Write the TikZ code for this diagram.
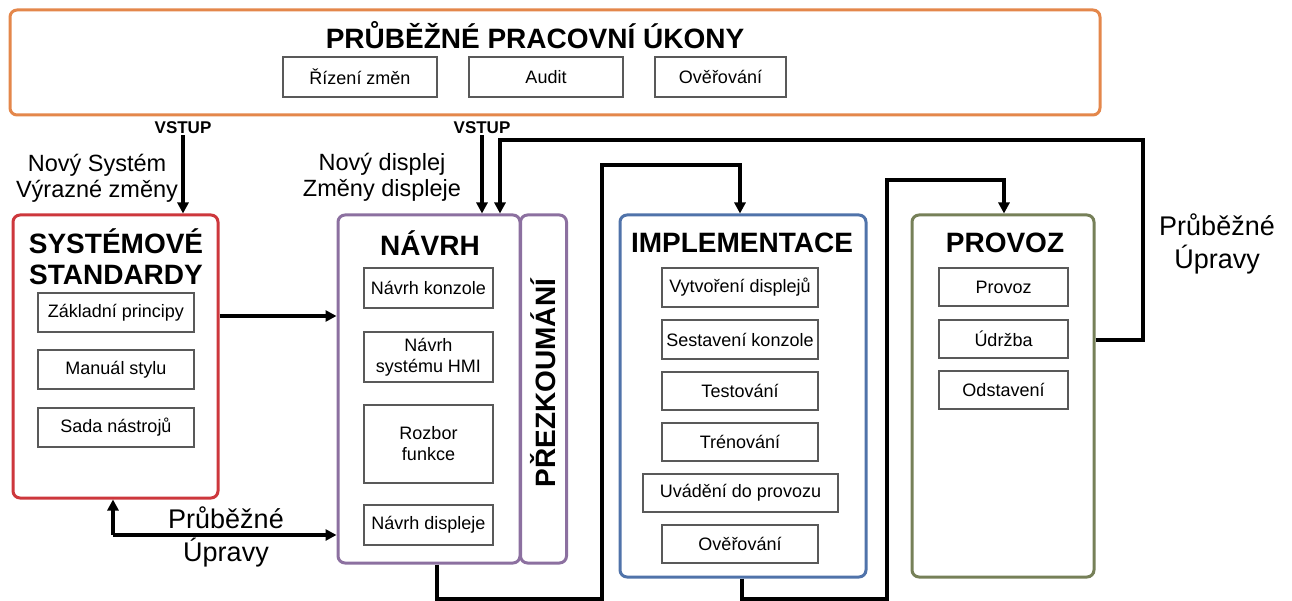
\documentclass[tikz,border=0pt]{standalone}
\usepackage{fontspec}
\setmainfont{Liberation Sans}
\usetikzlibrary{arrows.meta}
\definecolor{corange}{RGB}{228,135,75}
\definecolor{cred}{RGB}{205,55,60}
\definecolor{cpurple}{RGB}{140,112,160}
\definecolor{cblue}{RGB}{80,115,170}
\definecolor{colive}{RGB}{118,128,88}
\tikzset{
 grp/.style={draw, rounded corners=7pt, line width=3pt, fill=white, inner sep=0pt},
 sub/.style={draw=black!65, line width=1.8pt, fill=white, font=\fontsize{18}{21}\selectfont, align=center, inner sep=0pt},
 hdr/.style={font=\bfseries\fontsize{28}{31}\selectfont, align=center, inner sep=0pt},
 lbl/.style={font=\fontsize{23.5}{26}\selectfont, align=center, inner sep=0pt},
 lblb/.style={font=\fontsize{27}{32.5}\selectfont, align=center, inner sep=0pt},
 vst/.style={font=\bfseries\fontsize{17}{18}\selectfont, inner sep=1pt},
 arr/.style={line width=3.4pt, -{Triangle[length=11pt,width=11pt]}},
}
\begin{document}
\begin{tikzpicture}[x=1pt,y=-1pt]
\useasboundingbox (0,0) rectangle (1292,601);
% top box
\node[grp, draw=corange, minimum width=1090pt, minimum height=105pt] (top) at (555,62.5) {};
\node[hdr] (title) at (535,35) {PRŮBĚŽNÉ PRACOVNÍ ÚKONY};
\node[sub, minimum width=154pt, minimum height=40pt] (rz) at (360,77) {Řízení změn};
\node[sub, minimum width=154pt, minimum height=40pt] (au) at (546,77) {Audit};
\node[sub, minimum width=131pt, minimum height=40pt] (ov) at (720.5,77) {Ověřování};

% system standards
\node[grp, draw=cred, minimum width=205pt, minimum height=283pt] (sys) at (115.5,356.5) {};
\node[hdr] (sysh) at (116,257) {SYSTÉMOVÉ\\STANDARDY};
\node[sub, minimum width=156pt, minimum height=39pt] (zp) at (116,312.5) {Základní principy};
\node[sub, minimum width=156pt, minimum height=39pt] (ms) at (116,369.5) {Manuál stylu};
\node[sub, minimum width=156pt, minimum height=39pt] (sn) at (116,427.5) {Sada nástrojů};

% navrh
\node[grp, draw=cpurple, minimum width=182pt, minimum height=348pt] (navrh) at (429,389) {};
\node[grp, draw=cpurple, minimum width=46pt, minimum height=348pt] (prez) at (543.5,389) {};
\node[hdr] (navrhh) at (430,243) {NÁVRH};
\node[hdr, rotate=90] (prezh) at (543,383) {PŘEZKOUMÁNÍ};
\node[sub, minimum width=129pt, minimum height=40pt] (nk) at (428.5,288) {Návrh konzole};
\node[sub, minimum width=129pt, minimum height=50pt] (nh) at (428.5,357) {Návrh\\systému HMI};
\node[sub, minimum width=129pt, minimum height=78pt] (rf) at (428.5,444) {Rozbor\\funkce};
\node[sub, minimum width=129pt, minimum height=40pt] (nd) at (428.5,525) {Návrh displeje};

% implementace
\node[grp, draw=cblue, minimum width=246pt, minimum height=362pt] (impl) at (743,396) {};
\node[hdr] (implh) at (742,243) {IMPLEMENTACE};
\node[sub, minimum width=156pt, minimum height=39pt] (vd) at (740,287.5) {Vytvoření displejů};
\node[sub, minimum width=156pt, minimum height=39pt] (sk) at (740,339.5) {Sestavení konzole};
\node[sub, minimum width=156pt, minimum height=38pt] (te) at (740,391) {Testování};
\node[sub, minimum width=156pt, minimum height=38pt] (tr) at (740,442) {Trénování};
\node[sub, minimum width=195pt, minimum height=38pt] (ud) at (740.5,493) {Uvádění do provozu};
\node[sub, minimum width=156pt, minimum height=38pt] (ov2) at (740,544) {Ověřování};

% provoz
\node[grp, draw=colive, minimum width=182pt, minimum height=362pt] (prov) at (1003,396) {};
\node[hdr] (provh) at (1005,243) {PROVOZ};
\node[sub, minimum width=129pt, minimum height=38pt] (pv) at (1003.5,287) {Provoz};
\node[sub, minimum width=129pt, minimum height=38pt] (ud2) at (1003.5,339) {Údržba};
\node[sub, minimum width=129pt, minimum height=38pt] (od) at (1003.5,390) {Odstavení};

% labels
\node[vst] (v1) at (183,128) {VSTUP};
\node[vst] (v2) at (482,128) {VSTUP};
\node[lbl] (l1) at (97,178) {Nový Systém\\Výrazné změny};
\node[lbl] (l2) at (382,177) {Nový displej\\Změny displeje};
\node[lblb] (l3) at (1217,244) {Průběžné\\Úpravy};
\node[lblb] (l4) at (226,537) {Průběžné\\Úpravy};

% connectors
\draw[arr] (v1.south) -- (v1.south |- sys.north);
\draw[arr] (v2.south) -- (v2.south |- navrh.north);
\coordinate (a1) at (218,316);
\draw[arr] (sys.east |- a1) -- (navrh.west |- a1);
\coordinate (b1) at (113,535);
\draw[arr] (b1) -- (b1 |- sys.south);
\draw[arr] (b1) -- (b1 -| navrh.west);
% navrh -> implementace
\coordinate (n1) at (437,599);
\coordinate (n2) at (602,599);
\coordinate (n3) at (602,165);
\coordinate (n4) at (740,165);
\draw[arr] (n1 |- navrh.south) -- (n1) -- (n2) -- (n3) -- (n4) -- (n4 |- impl.north);
% implementace -> provoz
\coordinate (m1) at (742,599);
\coordinate (m2) at (887,599);
\coordinate (m3) at (887,180);
\coordinate (m4) at (1004,180);
\draw[arr] (m1 |- impl.south) -- (m1) -- (m2) -- (m3) -- (m4) -- (m4 |- prov.north);
% provoz -> navrh
\coordinate (p1) at (1143,340);
\coordinate (p2) at (1143,140);
\coordinate (p3) at (500,140);
\draw[arr] (prov.east |- p1) -- (p1) -- (p2) -- (p3) -- (p3 |- navrh.north);
\end{tikzpicture}
\end{document}
